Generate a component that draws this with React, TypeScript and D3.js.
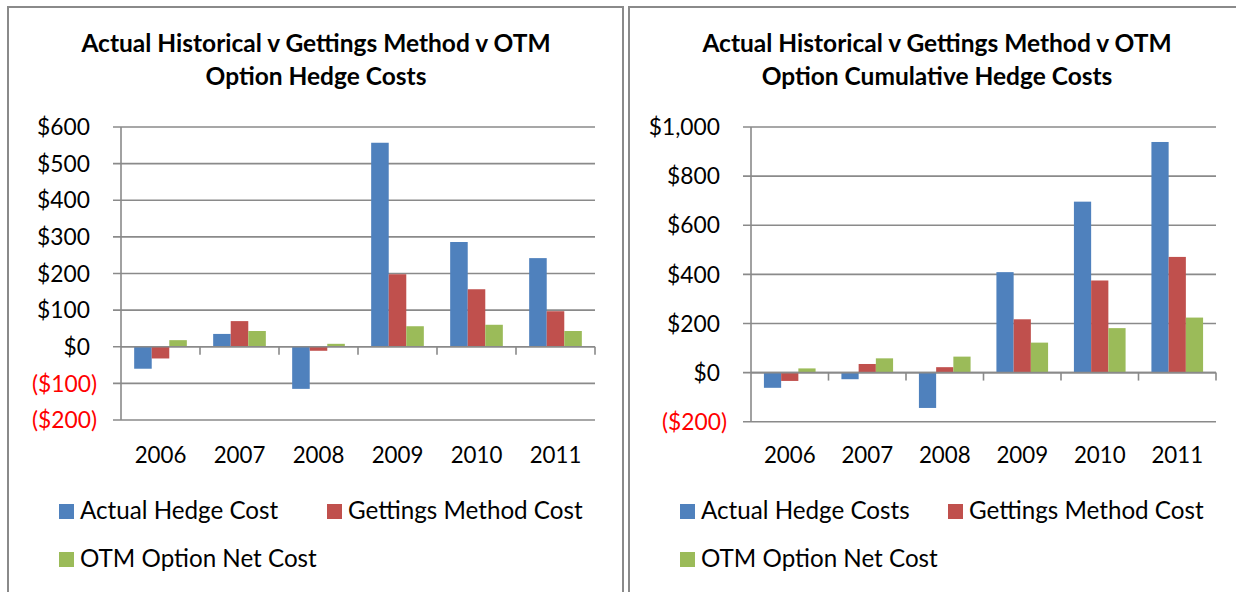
import { useEffect, useRef } from "react";
import * as d3 from "d3";

// categories
const years = ["2006", "2007", "2008", "2009", "2010", "2011"];
const seriesColors = ["#4F81BD", "#C0504D", "#9BBB59"];

// annual hedge costs (left chart)
const annualActual = [-60, 35, -115, 557, 286, 242];
const annualGettings = [-32, 70, -11, 198, 157, 97];
const annualOtm = [18, 43, 8, 56, 60, 43];
const annualTicks = [-200, -100, 0, 100, 200, 300, 400, 500, 600];

// cumulative hedge costs (right chart)
const cumulativeActual = [-62, -27, -144, 409, 696, 939];
const cumulativeGettings = [-34, 35, 22, 217, 375, 471];
const cumulativeOtm = [17, 58, 65, 122, 181, 224];
const cumulativeTicks = [-200, 0, 200, 400, 600, 800, 1000];

const annualTitle = ["Actual Historical v Gettings Method v OTM", "Option Hedge Costs"];
const cumulativeTitle = ["Actual Historical v Gettings Method v OTM", "Option Cumulative Hedge Costs"];
const annualLegend = ["Actual Hedge Cost", "Gettings Method Cost", "OTM Option Net Cost"];
const cumulativeLegend = ["Actual Hedge Costs", "Gettings Method Cost", "OTM Option Net Cost"];

const FONT = "Lato, 'Liberation Sans', sans-serif";
const GRID = "#8a8a8a";

interface PanelOpts {
  ox: number;
  plotLeft: number;
  plotBottom: number;
  title: string[];
  legend: string[];
  series: number[][];
  ticks: number[];
}

const drawPanel = (svg: any, o: PanelOpts) => {
  const g = svg.append("g").attr("transform", `translate(${o.ox},0)`);
  const plotRight = 587;
  const plotTop = 127;

  // panel border
  g.append("rect")
    .attr("x", 0)
    .attr("y", 7)
    .attr("width", 615)
    .attr("height", 620)
    .attr("fill", "#fff")
    .attr("stroke", GRID)
    .attr("stroke-width", 2);

  // title
  o.title.forEach((t, i) => {
    g.append("text")
      .attr("x", 308)
      .attr("y", 52 + i * 33)
      .attr("text-anchor", "middle")
      .attr("font-family", FONT)
      .attr("font-weight", "bold")
      .attr("font-size", "24.5px")
      .attr("fill", "#000")
      .text(t);
  });

  const yScale = d3
    .scaleLinear()
    .domain([o.ticks[0], o.ticks[o.ticks.length - 1]])
    .range([o.plotBottom, plotTop]);

  const x0 = d3.scaleBand().domain(years).range([o.plotLeft, plotRight]).padding(0);
  const x1 = d3
    .scaleBand()
    .domain(["0", "1", "2"])
    .range([0, x0.bandwidth()])
    .paddingInner(0)
    .paddingOuter(0.75);

  // gridlines + y tick labels
  o.ticks.forEach((t) => {
    g.append("line")
      .attr("x1", o.plotLeft - 8)
      .attr("x2", plotRight)
      .attr("y1", yScale(t))
      .attr("y2", yScale(t))
      .attr("stroke", GRID)
      .attr("stroke-width", 1.6);

    g.append("text")
      .attr("x", o.plotLeft - (t < 0 ? 24 : 31))
      .attr("y", yScale(t))
      .attr("dy", "0.36em")
      .attr("text-anchor", "end")
      .attr("font-family", FONT)
      .attr("font-size", "22.8px")
      .attr("fill", t < 0 ? "#FF0000" : "#000")
      .text(t < 0 ? `($${d3.format(",")(-t)})` : `$${d3.format(",")(t)}`);
  });

  // bars
  o.series.forEach((vals, si) => {
    g.append("g")
      .selectAll("rect")
      .data(vals)
      .enter()
      .append("rect")
      .attr("x", (_: number, i: number) => (x0(years[i]) ?? 0) + (x1(String(si)) ?? 0))
      .attr("width", x1.bandwidth())
      .attr("y", (d: number) => yScale(Math.max(0, d)))
      .attr("height", (d: number) => Math.abs(yScale(d) - yScale(0)))
      .attr("fill", seriesColors[si]);
  });

  // x axis at zero, ticks between categories
  const y0 = yScale(0);
  g.append("line")
    .attr("x1", o.plotLeft)
    .attr("x2", plotRight)
    .attr("y1", y0)
    .attr("y2", y0)
    .attr("stroke", GRID)
    .attr("stroke-width", 1.6);
  years.forEach((yr) => {
    const bx = (x0(yr) ?? 0) + x0.bandwidth();
    g.append("line")
      .attr("x1", bx)
      .attr("x2", bx)
      .attr("y1", y0)
      .attr("y2", y0 + 8)
      .attr("stroke", GRID)
      .attr("stroke-width", 1.6);
  });

  // y axis
  g.append("line")
    .attr("x1", o.plotLeft)
    .attr("x2", o.plotLeft)
    .attr("y1", plotTop)
    .attr("y2", o.plotBottom)
    .attr("stroke", GRID)
    .attr("stroke-width", 1.6);

  // category labels
  years.forEach((yr) => {
    g.append("text")
      .attr("x", (x0(yr) ?? 0) + x0.bandwidth() / 2)
      .attr("y", 463)
      .attr("text-anchor", "middle")
      .attr("font-family", FONT)
      .attr("font-size", "22.3px")
      .attr("fill", "#000")
      .text(yr);
  });

  // legend
  const legendPos = [
    [51, 504],
    [319, 504],
    [51, 552],
  ];
  o.legend.forEach((label, i) => {
    const [lx, ly] = legendPos[i];
    g.append("rect")
      .attr("x", lx)
      .attr("y", ly)
      .attr("width", 15)
      .attr("height", 15)
      .attr("fill", seriesColors[i]);
    g.append("text")
      .attr("x", lx + 21)
      .attr("y", ly + 15)
      .attr("font-family", FONT)
      .attr("font-size", "24.2px")
      .attr("fill", "#000")
      .text(label);
  });
};

const App = () => {
  const ref = useRef<SVGSVGElement>(null);

  useEffect(() => {
    const svg = d3.select(ref.current);
    svg.selectAll("*").remove();

    svg.append("rect").attr("width", 1236).attr("height", 592).attr("fill", "#fff");

    drawPanel(svg, {
      ox: 8,
      plotLeft: 113,
      plotBottom: 420,
      title: annualTitle,
      legend: annualLegend,
      series: [annualActual, annualGettings, annualOtm],
      ticks: annualTicks,
    });
    drawPanel(svg, {
      ox: 629,
      plotLeft: 122,
      plotBottom: 421.7,
      title: cumulativeTitle,
      legend: cumulativeLegend,
      series: [cumulativeActual, cumulativeGettings, cumulativeOtm],
      ticks: cumulativeTicks,
    });
  }, []);

  return (
    <svg
      ref={ref}
      width={1236}
      height={592}
      style={{ position: "absolute", left: 0, top: 0, display: "block" }}
    />
  );
};

export default App;
